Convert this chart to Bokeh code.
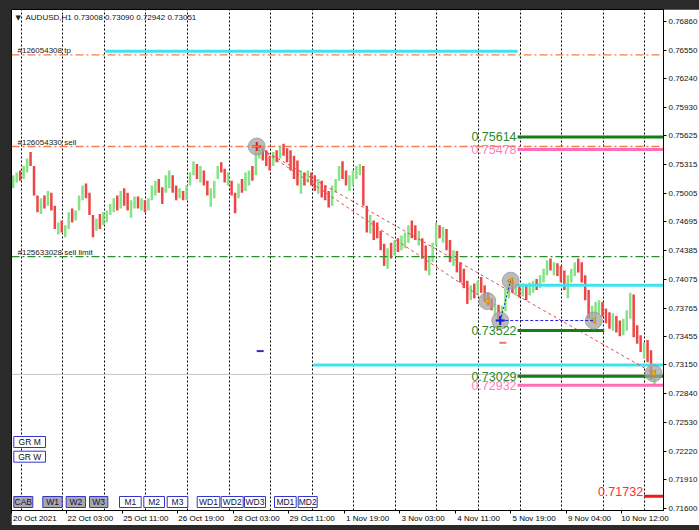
from bokeh.plotting import figure
from bokeh.models import Range1d, FixedTicker, Span, Label, BoxAnnotation, NumeralTickFormatter
from bokeh.embed import file_html
from bokeh.resources import INLINE
from bokeh.core.properties import value

# ---------------- data ----------------
chart_title = "AUDUSD,H1  0.73008 0.73090 0.72942 0.73051"
hours_per_bar = 2
first_open = 0.7510

bar_high = [
    0.7520, 0.7523, 0.7525, 0.7530, 0.7538, 0.7545, 0.7530, 0.7498, 0.7495, 0.7498,
    0.7503, 0.7501, 0.7487, 0.7469, 0.7471, 0.7466, 0.7480, 0.7484, 0.7482, 0.7498,
    0.7509, 0.7511, 0.7501, 0.7477, 0.7473, 0.7478, 0.7480, 0.7482, 0.7489, 0.7495,
    0.7498, 0.7503, 0.7506, 0.7501, 0.7493, 0.7497, 0.7497, 0.7495, 0.7493, 0.7495,
    0.7509, 0.7514, 0.7516, 0.7507, 0.7520, 0.7525, 0.7520, 0.7509, 0.7506, 0.7503,
    0.7509, 0.7523, 0.7535, 0.7532, 0.7530, 0.7525, 0.7514, 0.7506, 0.7514, 0.7530,
    0.7534, 0.7527, 0.7523, 0.7514, 0.7501, 0.7511, 0.7516, 0.7523, 0.7525, 0.7530,
    0.7547, 0.7552, 0.7550, 0.7547, 0.7541, 0.7545, 0.7547, 0.7552, 0.7554, 0.7549,
    0.7547, 0.7541, 0.7536, 0.7525, 0.7523, 0.7525, 0.7523, 0.7520, 0.7516, 0.7514,
    0.7509, 0.7503, 0.7509, 0.7516, 0.7530, 0.7535, 0.7525, 0.7520, 0.7525, 0.7530,
    0.7532, 0.7530, 0.7487, 0.7477, 0.7471, 0.7469, 0.7460, 0.7446, 0.7441, 0.7447,
    0.7450, 0.7452, 0.7455, 0.7458, 0.7466, 0.7471, 0.7466, 0.7460, 0.7452, 0.7444,
    0.7433, 0.7447, 0.7469, 0.7466, 0.7464, 0.7462, 0.7450, 0.7439, 0.7438, 0.7426,
    0.7419, 0.7406, 0.7401, 0.7403, 0.7406, 0.7410, 0.7401, 0.7393, 0.7387, 0.7381,
    0.7380, 0.7379, 0.7398, 0.7406, 0.7408, 0.7403, 0.7401, 0.7403, 0.7402, 0.7404,
    0.7406, 0.7408, 0.7412, 0.7419, 0.7428, 0.7430, 0.7426, 0.7425, 0.7422, 0.7417,
    0.7412, 0.7419, 0.7426, 0.7430, 0.7426, 0.7412, 0.7396, 0.7379, 0.7383, 0.7385,
    0.7383, 0.7376, 0.7372, 0.7371, 0.7368, 0.7363, 0.7365, 0.7374, 0.7393, 0.7391,
    0.7358, 0.7347, 0.7339, 0.7342, 0.7331, 0.73090,
]
bar_low = [
    0.7506, 0.7512, 0.7514, 0.7516, 0.7523, 0.7530, 0.7498, 0.7480, 0.7478, 0.7484,
    0.7487, 0.7482, 0.7462, 0.7456, 0.7458, 0.7453, 0.7462, 0.7469, 0.7471, 0.7482,
    0.7493, 0.7495, 0.7477, 0.7453, 0.7460, 0.7462, 0.7466, 0.7469, 0.7477, 0.7480,
    0.7482, 0.7484, 0.7487, 0.7482, 0.7474, 0.7484, 0.7484, 0.7482, 0.7480, 0.7482,
    0.7493, 0.7498, 0.7501, 0.7489, 0.7501, 0.7506, 0.7501, 0.7493, 0.7495, 0.7493,
    0.7493, 0.7509, 0.7520, 0.7516, 0.7512, 0.7509, 0.7498, 0.7486, 0.7495, 0.7516,
    0.7523, 0.7512, 0.7509, 0.7498, 0.7479, 0.7495, 0.7501, 0.7503, 0.7509, 0.7514,
    0.7520, 0.7538, 0.7536, 0.7530, 0.7525, 0.7530, 0.7534, 0.7538, 0.7541, 0.7534,
    0.7525, 0.7516, 0.7509, 0.7500, 0.7509, 0.7512, 0.7509, 0.7503, 0.7500, 0.7496,
    0.7493, 0.7485, 0.7487, 0.7501, 0.7514, 0.7516, 0.7509, 0.7503, 0.7509, 0.7516,
    0.7520, 0.7487, 0.7458, 0.7457, 0.7450, 0.7452, 0.7439, 0.7422, 0.7419, 0.7430,
    0.7433, 0.7437, 0.7439, 0.7441, 0.7447, 0.7452, 0.7450, 0.7444, 0.7430, 0.7417,
    0.7412, 0.7426, 0.7444, 0.7452, 0.7447, 0.7439, 0.7426, 0.7422, 0.7415, 0.7404,
    0.7398, 0.7381, 0.7385, 0.7387, 0.7391, 0.7393, 0.7385, 0.7379, 0.7374, 0.7368,
    0.7363, 0.7361, 0.7373, 0.7387, 0.7393, 0.7390, 0.7388, 0.7389, 0.7385, 0.7390,
    0.7393, 0.7396, 0.7398, 0.7404, 0.7412, 0.7417, 0.7412, 0.7411, 0.7404, 0.7396,
    0.7387, 0.7404, 0.7411, 0.7415, 0.7404, 0.7385, 0.7365, 0.7361, 0.7367, 0.7370,
    0.7367, 0.7360, 0.7354, 0.7352, 0.7350, 0.7346, 0.7347, 0.7352, 0.7365, 0.7345,
    0.7338, 0.7329, 0.7322, 0.7318, 0.7299, 0.72942,
]
bar_close = [
    0.7514, 0.7519, 0.7516, 0.7527, 0.7536, 0.7532, 0.7501, 0.7484, 0.7493, 0.7487,
    0.7501, 0.7484, 0.7465, 0.7466, 0.7460, 0.7465, 0.7477, 0.7473, 0.7480, 0.7495,
    0.7506, 0.7498, 0.7479, 0.7466, 0.7471, 0.7466, 0.7478, 0.7480, 0.7487, 0.7493,
    0.7485, 0.7501, 0.7495, 0.7484, 0.7490, 0.7495, 0.7487, 0.7493, 0.7484, 0.7493,
    0.7506, 0.7512, 0.7503, 0.7493, 0.7516, 0.7523, 0.7506, 0.7498, 0.7503, 0.7496,
    0.7507, 0.7520, 0.7532, 0.7520, 0.7527, 0.7511, 0.7500, 0.7503, 0.7512, 0.7527,
    0.7525, 0.7516, 0.7520, 0.7500, 0.7497, 0.7509, 0.7506, 0.7520, 0.7523, 0.7516,
    0.7545, 0.7547, 0.7538, 0.7534, 0.7530, 0.7541, 0.7538, 0.7549, 0.7545, 0.7536,
    0.7530, 0.7520, 0.7512, 0.7520, 0.7512, 0.7523, 0.7512, 0.7506, 0.7514, 0.7498,
    0.7495, 0.7487, 0.7506, 0.7514, 0.7527, 0.7520, 0.7512, 0.7514, 0.7523, 0.7527,
    0.7530, 0.7489, 0.7462, 0.7471, 0.7455, 0.7454, 0.7441, 0.7426, 0.7439, 0.7437,
    0.7444, 0.7441, 0.7450, 0.7455, 0.7462, 0.7460, 0.7452, 0.7455, 0.7433, 0.7419,
    0.7430, 0.7444, 0.7466, 0.7455, 0.7460, 0.7441, 0.7430, 0.7437, 0.7417, 0.7408,
    0.7401, 0.7387, 0.7398, 0.7390, 0.7403, 0.7396, 0.7388, 0.7381, 0.7376, 0.7379,
    0.7365, 0.7374, 0.7396, 0.7403, 0.7396, 0.7401, 0.7390, 0.7401, 0.7388, 0.7401,
    0.7404, 0.7398, 0.7410, 0.7417, 0.7426, 0.7419, 0.7422, 0.7414, 0.7406, 0.7401,
    0.7408, 0.7417, 0.7422, 0.7419, 0.7406, 0.7387, 0.7368, 0.7376, 0.7379, 0.7383,
    0.7371, 0.7363, 0.7358, 0.7367, 0.7352, 0.7349, 0.7361, 0.7372, 0.7390, 0.7347,
    0.7342, 0.7331, 0.7336, 0.7322, 0.73008, 0.73051,
]

time_labels = ["20 Oct 2021", "22 Oct 03:00", "25 Oct 11:00", "26 Oct 19:00",
               "28 Oct 03:00", "29 Oct 11:00", "1 Nov 19:00", "3 Nov 03:00",
               "4 Nov 11:00", "5 Nov 19:00", "9 Nov 04:00", "10 Nov 12:00"]
time_label_hour = [0, 32, 64, 96, 128, 160, 192, 224, 256, 288, 320, 352]
day_start_hour = [5, 29, 53, 77, 101, 125, 149, 173, 197, 221, 245, 269, 293, 317, 341, 365]
visible_hours = 376.2

price_ticks = [0.76860, 0.76550, 0.76240, 0.75930, 0.75625, 0.75315, 0.75005, 0.74695,
               0.74385, 0.74075, 0.73765, 0.73455, 0.73150, 0.72840, 0.72530, 0.72220,
               0.71910, 0.71600]
price_low, price_high = 0.71578, 0.76990
bid_price = 0.73048

order_names = ["#126054308 tp", "#126054330 sell", "#125633028 sell limit"]
order_prices = [0.7650, 0.7551, 0.7432]

level_values = [0.75614, 0.75478, 0.73522, 0.73029, 0.72932, 0.71732]
level_from_hour = [292, 292, 292, 292, 292, 365]
level_to_hour = [376.2, 376.2, 342, 376.2, 376.2, 376.2]

cyan_values = [0.7654, 0.7401, 0.7315]
cyan_from_hour = [54, 292, 174]
cyan_to_hour = [292, 376.2, 376.2]

pattern_hour = [141.5, 274.5, 282.0, 288.0, 336.0, 370.5]
pattern_price = [0.7551, 0.7384, 0.7363, 0.7406, 0.7363, 0.7306]

dash_marker_hour = [143.5, 283.5]
dash_marker_price = [0.7330, 0.7339]

button_names = ["CAB", "W1", "W2", "W3", "M1", "M2", "M3", "WD1", "WD2", "WD3", "MD1", "MD2"]
side_button_names = ["GR M", "GR W"]

# ---------------- styles / layout ----------------
UP, DOWN = "#86e286", "#ee4646"
GREEN, PINK, CYAN, RED = "#128012", "#ff6db6", "#3fe3f0", "#f01818"
level_line_colors = [GREEN, PINK, GREEN, GREEN, PINK, RED]
level_text_colors = ["#2a8a2a", "#ff7ac0", "#2a8a2a", "#2a8a2a", "#ff7ac0", "#ff3030"]
level_baselines = ["middle"] * 5 + ["bottom"]
order_colors = ["#f47c4c", "#f47c4c", "#2e8b2e"]
FONT = "Liberation Sans"

p = figure(frame_width=652, frame_height=501, output_backend="svg", toolbar_location=None,
           x_range=Range1d(0, visible_hours), y_range=Range1d(price_low, price_high),
           y_axis_location="right", min_border_left=0, min_border_top=0,
           min_border_right=36, min_border_bottom=13,
           background_fill_color="white", border_fill_color="white")
p.styles = {"margin-left": "11px", "margin-top": "9px"}
p.outline_line_color = "black"
p.outline_line_width = 1

# grid: vertical dotted day separators
p.ygrid.visible = False
p.xgrid.ticker = FixedTicker(ticks=[h + 0.5 for h in day_start_hour])
p.xgrid.grid_line_color = "black"
p.xgrid.grid_line_dash = "2 2"
p.xgrid.grid_line_width = 1

# x axis: labels start at their tick (MT4 style)
centers = [h + 13.5 for h in time_label_hour]
xa = p.xaxis[0]
xa.ticker = FixedTicker(ticks=centers, minor_ticks=time_label_hour)
xa.major_label_overrides = {c: t for c, t in zip(centers, time_labels)}
xa.major_tick_out = 0
xa.major_tick_in = 0
xa.minor_tick_out = 3
xa.minor_tick_in = 0
xa.minor_tick_line_color = "black"
xa.major_label_standoff = 0
xa.major_label_text_font = FONT
xa.major_label_text_font_size = "8px"
xa.major_label_text_color = "black"
xa.axis_line_color = "black"

ya = p.yaxis[0]
ya.ticker = FixedTicker(ticks=price_ticks)
ya.formatter = NumeralTickFormatter(format="0.00000")
ya.major_tick_out = 3
ya.major_tick_in = 0
ya.minor_tick_line_color = None
ya.major_tick_line_color = "black"
ya.major_label_standoff = 2
ya.major_label_text_font = FONT
ya.major_label_text_font_size = "8px"
ya.major_label_text_color = "#111111"
ya.axis_line_color = "black"

# bid line
p.add_layout(Span(location=bid_price, dimension="width", line_color="#c4c4c4",
                  line_width=1, level="underlay"))

# price bars
bar_x = [hours_per_bar * i + hours_per_bar / 2 for i in range(len(bar_close))]
bar_open = [first_open] + bar_close[:-1]
bar_colors = [UP if c >= o else DOWN for o, c in zip(bar_open, bar_close)]
p.segment(x0=bar_x, y0=bar_low, x1=bar_x, y1=bar_high, line_color=bar_colors, line_width=2.5)

# order lines
for name, price, col in zip(order_names, order_prices, order_colors):
    p.add_layout(Span(location=price, dimension="width", line_color=col,
                      line_width=1.4, line_dash="8 3 2 3"))
    p.add_layout(Label(x=6, x_units="screen", y=price, text=name, text_baseline="bottom",
                       text_font=FONT, text_font_size="8px", text_color="#1a1a1a"))

# cyan levels
p.segment(x0=cyan_from_hour, y0=cyan_values, x1=cyan_to_hour, y1=cyan_values,
          line_color=CYAN, line_width=3)

# trend lines (red dotted)
p.line([pattern_hour[0], pattern_hour[5]], [pattern_price[0], pattern_price[5]],
       line_color="#e5474f", line_dash="3 3", line_width=1)
p.line([pattern_hour[0], pattern_hour[1]], [pattern_price[0], pattern_price[1]],
       line_color="#e5474f", line_dash="3 3", line_width=1)

# labelled price levels
p.segment(x0=level_from_hour, y0=level_values, x1=level_to_hour, y1=level_values,
          line_color=level_line_colors, line_width=3)
for v, h, tc, bl in zip(level_values, level_from_hour, level_text_colors, level_baselines):
    p.add_layout(Label(x=h, y=v, x_offset=-1, text=f"{v:.5f}", text_align="right",
                       text_baseline=bl, text_font=FONT, text_font_size="12.5px",
                       text_color=tc))

# pattern markers
p.scatter(pattern_hour, pattern_price, size=17, fill_color="#a4a4a4", fill_alpha=0.75,
          line_color="#9a9a9a", line_alpha=0.8)
p.scatter([pattern_hour[i] for i in (1, 3, 4, 5)], [pattern_price[i] for i in (1, 3, 4, 5)],
          marker="triangle", angle=1.5708, size=6, fill_color="#f2b020",
          line_color="#d08a10")
p.line([pattern_hour[2], pattern_hour[4]], [pattern_price[2], pattern_price[4]],
       line_color="#2020e0", line_dash="3 2", line_width=1)
p.line([pattern_hour[2], pattern_hour[3]], [pattern_price[2], pattern_price[3]],
       line_color="#2020e0", line_dash="2 2", line_width=1)
p.scatter([pattern_hour[0]], [pattern_price[0]], marker="cross", size=9,
          line_color="#ee1111", line_width=2)
p.scatter([pattern_hour[2]], [pattern_price[2]], marker="cross", size=9,
          line_color="#1a1ad0", line_width=2)
p.scatter(dash_marker_hour, dash_marker_price, marker="dash", size=7,
          line_color=["#3030c0", "#f07070"], line_width=2)

# current price box on the axis
p.add_layout(Label(x=653, x_units="screen", y=bid_price, text=f"{bid_price:.5f}",
                   text_baseline="middle", text_font=FONT, text_font_size="8px",
                   text_color="white", background_fill_color="black", padding=2))

# title
p.add_layout(Label(x=4, y=493, x_units="screen", y_units="screen", text="\u25bc",
                   text_baseline="middle", text_font="DejaVu Sans", text_font_size="7px",
                   text_color="#222222"))
p.add_layout(Label(x=14, y=493, x_units="screen", y_units="screen", text=chart_title,
                   text_baseline="middle", text_font=FONT, text_font_size="8px",
                   text_color="#111111"))

# chart buttons
btn_left = [2.3, 31.3, 54.7, 78, 108, 132.3, 155.7, 185.7, 209.7, 233, 263, 286.7]
btn_right = [21.3, 50.7, 74, 96.3, 129.7, 153, 176.3, 208.3, 231.7, 254, 284.7, 305.7]
for i, (name, l, r) in enumerate(zip(button_names, btn_left, btn_right)):
    fill = "#a9a9a9" if i < 4 else "white"
    p.add_layout(BoxAnnotation(left=l, right=r, bottom=3, top=14, left_units="screen",
                               right_units="screen", bottom_units="screen", top_units="screen",
                               fill_color=fill, fill_alpha=1, line_color="#3535cc",
                               line_alpha=1, line_width=1))
    p.add_layout(Label(x=(l + r) / 2, y=8.5, x_units="screen", y_units="screen", text=name,
                       text_align="center", text_baseline="middle", text_font=FONT,
                       text_font_size="8.5px", text_color="#101050"))
for name, b, t in zip(side_button_names, [63, 48.3], [74, 59.3]):
    p.add_layout(BoxAnnotation(left=2.3, right=34, bottom=b, top=t, left_units="screen",
                               right_units="screen", bottom_units="screen", top_units="screen",
                               fill_color="white", fill_alpha=1, line_color="#3535cc",
                               line_alpha=1, line_width=1))
    p.add_layout(Label(x=18.2, y=(b + t) / 2, x_units="screen", y_units="screen", text=name,
                       text_align="center", text_baseline="middle", text_font=FONT,
                       text_font_size="8.5px", text_color="#101010"))

html = file_html(p, INLINE, title="AUDUSD,H1")
html = html.replace("<head>", "<head><style>html,body{background:#2a2a2a;overflow:hidden;}</style>", 1)
open("out.html", "w").write(html)
